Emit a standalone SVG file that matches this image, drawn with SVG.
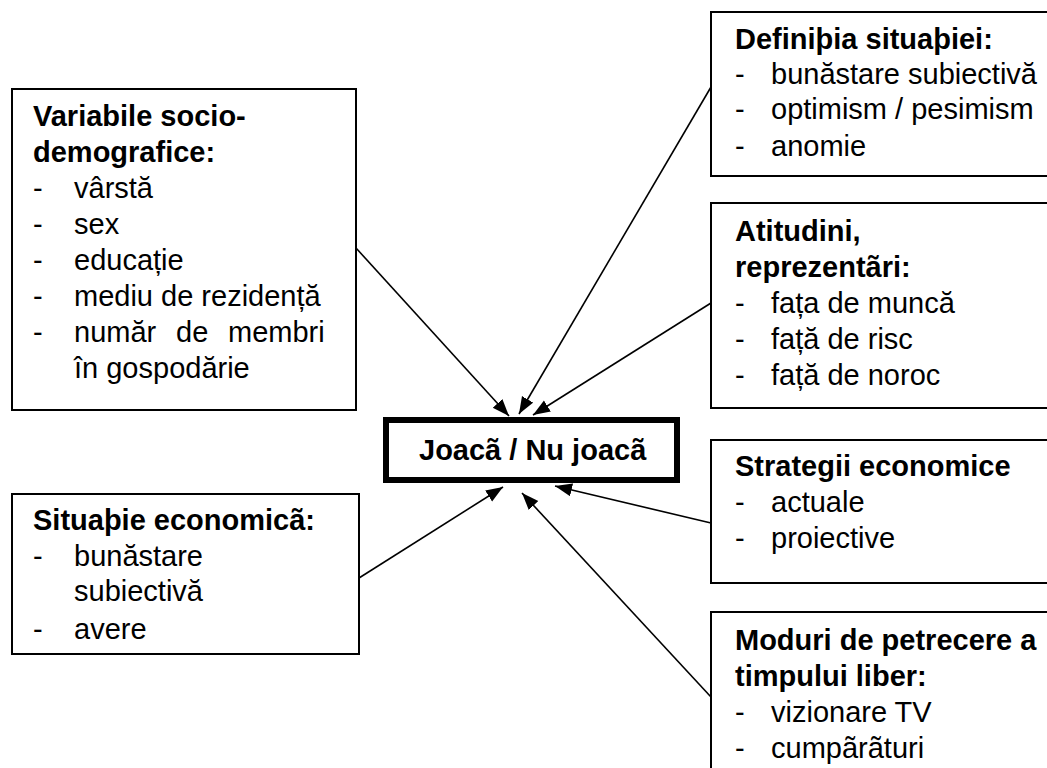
<svg xmlns="http://www.w3.org/2000/svg" width="1047" height="768" viewBox="0 0 1047 768">
<style>
.box{fill:#fff;stroke:#000;stroke-width:2}
.main{fill:#fff;stroke:#000;stroke-width:6}
.t{font-family:"Liberation Sans",Arial,sans-serif;font-size:29px;fill:#000}
.b{font-weight:bold}
.c{stroke:#000;stroke-width:1.6;fill:none;marker-end:url(#ah)}
</style>
<defs>
<marker id="ah" markerUnits="userSpaceOnUse" markerWidth="18" markerHeight="14" refX="17" refY="6.5" orient="auto">
<path d="M0,0 L17,6.5 L0,13 z" fill="#000"/>
</marker>
</defs>
<rect width="1047" height="768" fill="#fff"/>
<g id="n-variabile">
<rect class="box" x="12" y="89" width="344" height="321"/>
<text class="t b" x="33" y="126">Variabile socio-</text>
<text class="t b" x="33" y="162">demografice:</text>
<text class="t" x="33" y="198">-</text><text class="t" x="74" y="198">vârstă</text>
<text class="t" x="33" y="234">-</text><text class="t" x="74" y="234">sex</text>
<text class="t" x="33" y="270">-</text><text class="t" x="74" y="270">educație</text>
<text class="t" x="33" y="306">-</text><text class="t" x="74" y="306">mediu de rezidență</text>
<text class="t" x="33" y="342">-</text><text class="t" y="342"><tspan x="74">număr</tspan><tspan x="176">de</tspan><tspan x="228">membri</tspan></text>
<text class="t" x="74" y="378">în gospodărie</text>
</g>
<g id="n-situatie">
<rect class="box" x="12" y="494" width="347" height="160"/>
<text class="t b" x="33" y="530">Situaþie economicã:</text>
<text class="t" x="33" y="566">-</text><text class="t" x="74" y="566">bunăstare</text>
<text class="t" x="74" y="601">subiectivă</text>
<text class="t" x="33" y="639">-</text><text class="t" x="74" y="639">avere</text>
</g>
<g id="n-definitia">
<rect class="box" x="711" y="12" width="400" height="164"/>
<text class="t b" x="735" y="49">Definiþia situaþiei:</text>
<text class="t" x="735" y="84">-</text><text class="t" x="771" y="84">bunăstare subiectivă</text>
<text class="t" x="735" y="119">-</text><text class="t" x="771" y="119">optimism / pesimism</text>
<text class="t" x="735" y="156">-</text><text class="t" x="771" y="156">anomie</text>
</g>
<g id="n-atitudini">
<rect class="box" x="711" y="203" width="400" height="205"/>
<text class="t b" x="735" y="241">Atitudini,</text>
<text class="t b" x="735" y="277">reprezentãri:</text>
<text class="t" x="735" y="313">-</text><text class="t" x="771" y="313">fața de muncă</text>
<text class="t" x="735" y="349">-</text><text class="t" x="771" y="349">față de risc</text>
<text class="t" x="735" y="385">-</text><text class="t" x="771" y="385">față de noroc</text>
</g>
<g id="n-strategii">
<rect class="box" x="711" y="440" width="400" height="143"/>
<text class="t b" x="735" y="476">Strategii economice</text>
<text class="t" x="735" y="512">-</text><text class="t" x="771" y="512">actuale</text>
<text class="t" x="735" y="548">-</text><text class="t" x="771" y="548">proiective</text>
</g>
<g id="n-moduri">
<rect class="box" x="711" y="612" width="400" height="200"/>
<text class="t b" x="735" y="650">Moduri de petrecere a</text>
<text class="t b" x="735" y="686">timpului liber:</text>
<text class="t" x="735" y="722">-</text><text class="t" x="771" y="722">vizionare TV</text>
<text class="t" x="735" y="758">-</text><text class="t" x="771" y="758">cumpãrãturi</text>
</g>
<g id="n-joaca">
<rect class="main" x="386" y="420" width="291" height="60"/>
<text class="t b" x="419" y="460">Joacã / Nu joacã</text>
</g>
<g id="connectors">
<line class="c" x1="356" y1="248" x2="509" y2="416"/>
<line class="c" x1="711" y1="87" x2="519" y2="414"/>
<line class="c" x1="711" y1="303" x2="533" y2="415"/>
<line class="c" x1="711" y1="523" x2="555" y2="486"/>
<line class="c" x1="711" y1="697" x2="522" y2="493"/>
<line class="c" x1="359" y1="578" x2="503" y2="487"/>
</g>
</svg>
